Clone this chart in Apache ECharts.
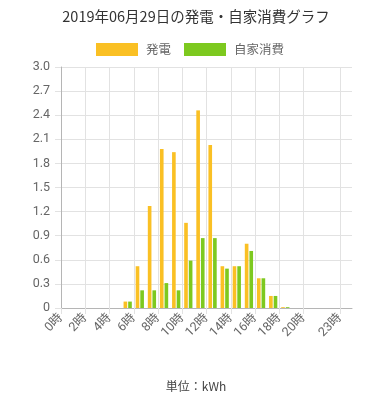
<!DOCTYPE html>
<html><head><meta charset="utf-8">
<script src="https://cdn.jsdelivr.net/npm/echarts@6/dist/echarts.min.js"></script>
<style>html,body{margin:0;padding:0;background:#fff}#c{width:392px;height:400px}</style>
</head><body><div id="c"></div>
<script>
const hours = ['0','1','2','3','4','5','6','7','8','9','10','11','12','13','14','15','16','17','18','19','20','21','22','23'];
const tickLabels = ['0時','','2時','','4時','','6時','','8時','','10時','','12時','','14時','','16時','','18時','','20時','','','23時',''];
const generation = [0,0,0,0,0,0.08,0.52,1.27,1.98,1.94,1.06,2.46,2.03,0.52,0.52,0.80,0.37,0.15,0.01,0,0,0,0,0];
const selfUse = [0,0,0,0,0,0.08,0.22,0.22,0.31,0.22,0.59,0.87,0.87,0.49,0.52,0.71,0.37,0.15,0.01,0,0,0,0,0];
const titleText = '2019年06月29日の発電・自家消費グラフ';
const unitText = '単位：kWh';

const chart = echarts.init(document.getElementById('c'));
const showAt = (i) => tickLabels[i] !== '';
const font = '"Noto Sans CJK JP", "Noto Sans", sans-serif';
chart.setOption({
  animation: false,
  title: [
    { text: titleText, left: 'center', top: 4, textStyle: { fontSize: 14.5, fontWeight: 'normal', color: '#333', fontFamily: font } },
    { text: unitText, left: 'center', top: 375, textStyle: { fontSize: 12, fontWeight: 'normal', color: '#444', fontFamily: font } }
  ],
  legend: {
    left: 91, top: 38, itemWidth: 42, itemHeight: 13, itemGap: 13,
    icon: 'rect',
    textStyle: { fontSize: 12.5, color: '#666', fontFamily: font, padding: [0, 0, 0, 3] },
    data: ['発電', '自家消費']
  },
  grid: { left: 61, right: 40, top: 67, bottom: 92, containLabel: false },
  xAxis: [
    { type: 'category', data: hours, position: 'bottom', boundaryGap: true, show: false },
    {
      type: 'category', data: tickLabels, position: 'bottom', boundaryGap: false,
      axisLine: { show: true, lineStyle: { color: '#b5b5b5', width: 1 } },
      axisTick: { show: true, length: 6, interval: showAt, lineStyle: { color: '#e2e2e2' } },
      splitLine: { show: true, interval: showAt, lineStyle: { color: '#e2e2e2', width: 1 } },
      axisLabel: { interval: 0, rotate: 45, margin: 8, fontSize: 12.5, color: '#666', fontFamily: 'Roboto, "Noto Sans CJK JP", sans-serif' }
    }
  ],
  yAxis: {
    type: 'value', min: 0, max: 3, interval: 0.3,
    axisLine: { show: true, lineStyle: { color: '#b5b5b5' } },
    axisTick: { show: true, length: 6, lineStyle: { color: '#e2e2e2' } },
    splitLine: { show: true, lineStyle: { color: '#e2e2e2' } },
    axisLabel: { margin: 11, fontSize: 12.5, color: '#666', fontFamily: 'Roboto, sans-serif',
      formatter: (v) => v === 0 ? '0' : v.toFixed(1) }
  },
  series: [
    { name: '発電', type: 'bar', xAxisIndex: 0, data: generation, barWidth: '30%', barGap: '27%', itemStyle: { color: '#fac024' } },
    { name: '自家消費', type: 'bar', xAxisIndex: 0, data: selfUse, barWidth: '30%', barGap: '27%', itemStyle: { color: '#7dc91f' } }
  ]
});
</script></body></html>
